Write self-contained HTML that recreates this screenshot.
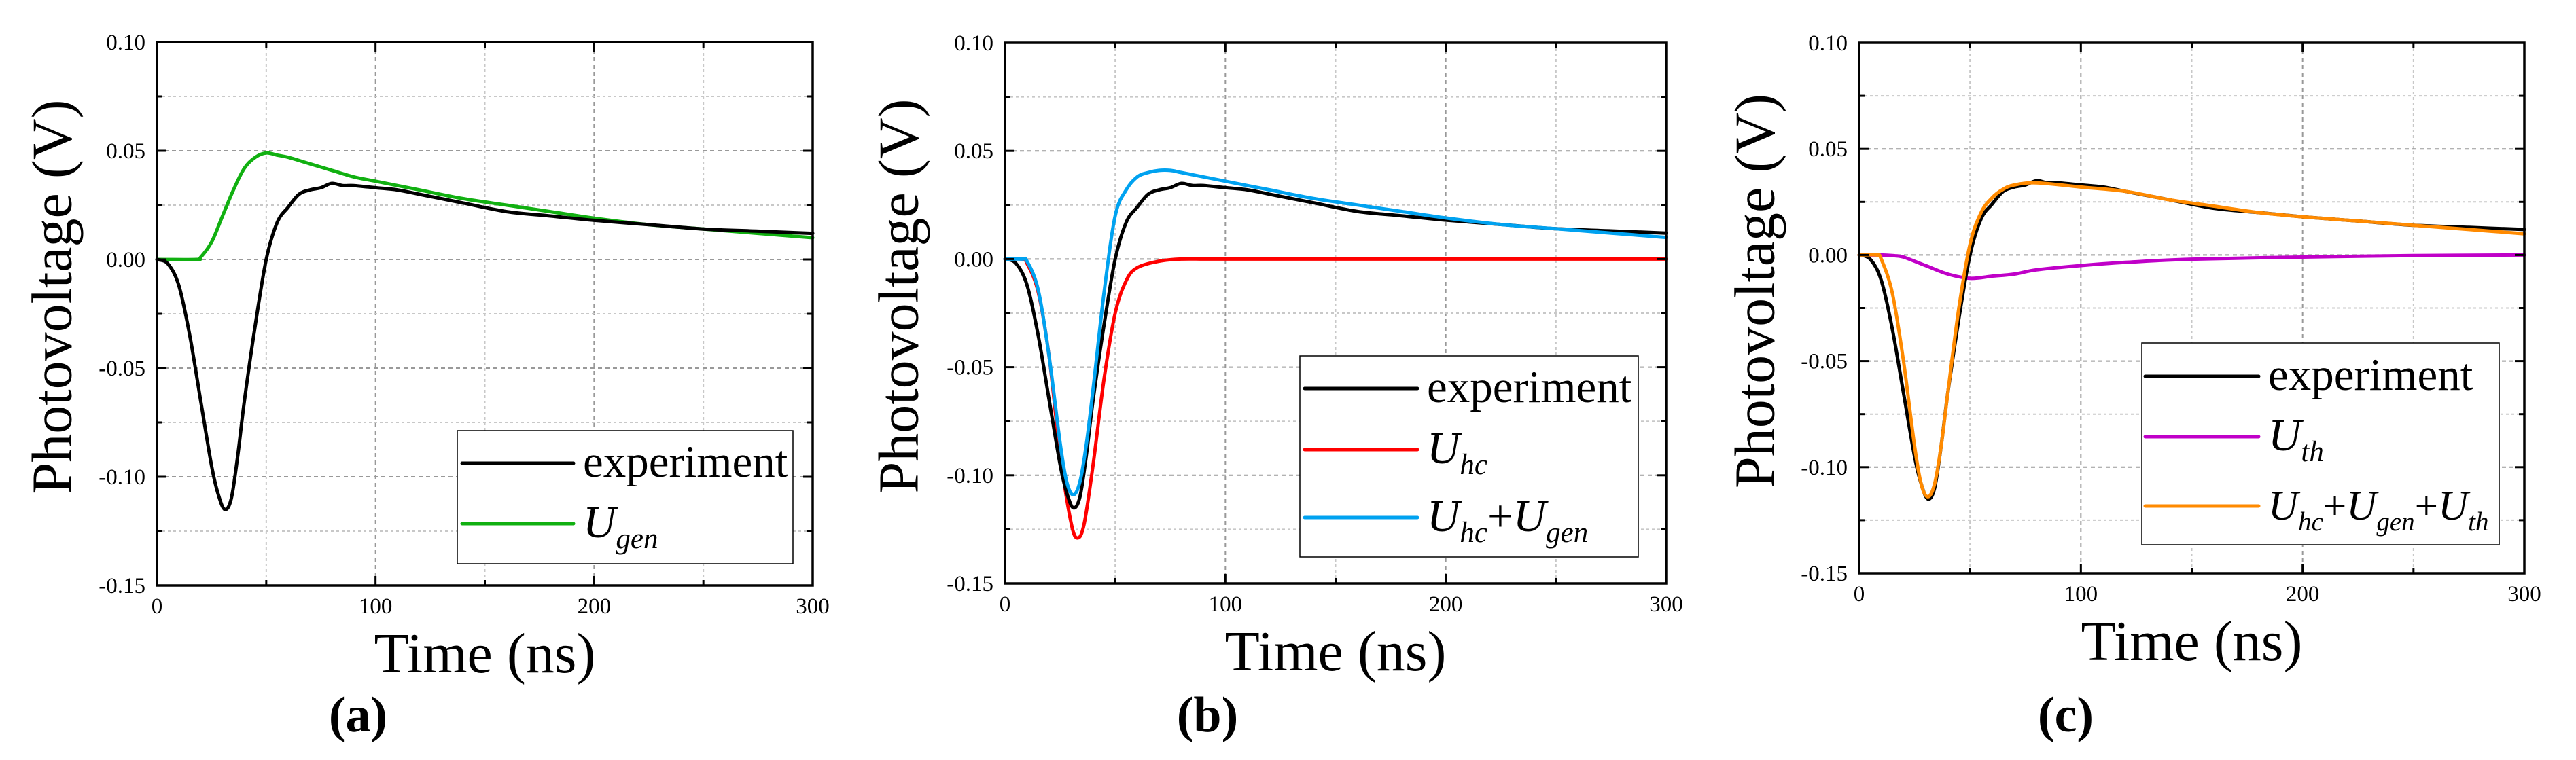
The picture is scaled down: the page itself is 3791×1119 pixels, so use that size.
<!DOCTYPE html>
<html><head><meta charset="utf-8">
<style>
html,body{margin:0;padding:0;background:#fff;}
svg{display:block;}
text{font-family:"Liberation Serif",serif;fill:#000;}
</style></head>
<body>
<svg id="fig" width="3791" height="1119" viewBox="0 0 3791 1119" xmlns="http://www.w3.org/2000/svg"></svg>
<script>
// ---- data (time in ns, value in V) ----
const expT = [0,5,10,15,20,25,28,31,34,37,40,45,50,55,60,65,70,75,80,85,90,100,110,120,140,160,180,200,225,250,275,300];
const expV = [0,-0.002,-0.012,-0.035,-0.065,-0.095,-0.108,-0.115,-0.110,-0.090,-0.065,-0.030,0,0.017,0.024,0.030,0.032,0.033,0.035,0.034,0.034,0.033,0.032,0.030,0.026,0.022,0.020,0.018,0.016,0.014,0.013,0.012];
const genT = [0,18,20,25,30,35,40,45,50,55,60,70,80,90,100,120,140,160,180,200,225,250,275,300];
const genV = [0,0,0.001,0.008,0.020,0.032,0.042,0.047,0.049,0.048,0.047,0.044,0.041,0.038,0.036,0.032,0.028,0.025,0.022,0.019,0.016,0.014,0.012,0.010];
const hcT = [0,8,10,15,20,25,30,33,36,40,45,50,55,60,70,80,90,100,150,200,250,300];
const hcV = [0,0,-0.002,-0.015,-0.045,-0.090,-0.122,-0.129,-0.122,-0.095,-0.055,-0.025,-0.010,-0.004,-0.001,0,0,0,0,0,0,0];
const sumT = [0,8,10,15,20,25,28,31,34,37,40,45,50,55,60,65,70,75,80,90,100,120,140,160,180,200,225,250,275,300];
const sumV = [0,0,-0.001,-0.014,-0.045,-0.085,-0.103,-0.109,-0.103,-0.085,-0.060,-0.015,0.020,0.032,0.038,0.040,0.041,0.041,0.040,0.038,0.036,0.032,0.028,0.025,0.022,0.019,0.016,0.014,0.012,0.010];
const thT = [0,10,15,20,30,40,50,60,70,80,100,120,150,200,250,300];
const thV = [0,0,-0.0003,-0.001,-0.005,-0.009,-0.011,-0.010,-0.009,-0.007,-0.005,-0.0035,-0.002,-0.001,-0.0003,0];
const allT = [0,8,10,15,20,25,28,31,34,37,40,45,50,55,60,65,70,80,100,120,140,160,180,200,225,250,275,300];
const allV = [0,0,-0.002,-0.018,-0.050,-0.090,-0.108,-0.114,-0.108,-0.090,-0.065,-0.025,0.005,0.020,0.027,0.031,0.033,0.034,0.032,0.030,0.026,0.023,0.020,0.018,0.016,0.014,0.012,0.010];
const xTicks = [0,100,200,300];
const yTicks = [0.10,0.05,0.00,-0.05,-0.10,-0.15];
const yTickLabels = ["0.10","0.05","0.00","-0.05","-0.10","-0.15"];

const NS="http://www.w3.org/2000/svg";
const svg=document.getElementById('fig');
function mk(tag,attrs,parent){const e=document.createElementNS(NS,tag);for(const k in attrs)e.setAttribute(k,attrs[k]);(parent||svg).appendChild(e);return e;}
function smooth(pts){
  let d='M'+pts[0][0].toFixed(1)+','+pts[0][1].toFixed(1);
  for(let i=0;i<pts.length-1;i++){
    const p0=pts[Math.max(0,i-1)],p1=pts[i],p2=pts[i+1],p3=pts[Math.min(pts.length-1,i+2)];
    const c1=[p1[0]+(p2[0]-p0[0])/6,p1[1]+(p2[1]-p0[1])/6];
    const c2=[p2[0]-(p3[0]-p1[0])/6,p2[1]-(p3[1]-p1[1])/6];
    d+=' C'+c1[0].toFixed(1)+','+c1[1].toFixed(1)+' '+c2[0].toFixed(1)+','+c2[1].toFixed(1)+' '+p2[0].toFixed(1)+','+p2[1].toFixed(1);
  }
  return d;
}

const panels=[
 {id:'a',L:231,R:1196,T:62,B:862,yt:79,lab:527,
  series:[{t:genT,v:genV,c:'#11b011',n:'ugen'},{t:expT,v:expV,c:'#000',n:'experiment'}],
  leg:{x:673,y:634,w:494,h:196,lx:680,lw:164,tx:858,rows:[[682,'#000','experiment',67],[771,'#11b011',['U','gen'],67]]}},
 {id:'b',L:1479,R:2452,T:63,B:859,yt:1325,lab:1777,
  series:[{t:hcT,v:hcV,c:'#ff0000',n:'uhc'},{t:expT,v:expV,c:'#000',n:'experiment'},{t:sumT,v:sumV,c:'#00a2f0',n:'uhc-plus-ugen'}],
  leg:{x:1913,y:524,w:498,h:296,lx:1920,lw:166,tx:2100,rows:[[572,'#000','experiment',67],[662,'#ff0000',['U','hc'],67],[762,'#00a2f0',['U','hc','+U','gen'],67]]}},
 {id:'c',L:2736,R:3715,T:63,B:844,yt:2585,lab:3040,
  series:[{t:thT,v:thV,c:'#c000c8',n:'uth'},{t:expT,v:expV,c:'#000',n:'experiment'},{t:allT,v:allV,c:'#ff8a00',n:'uhc-plus-ugen-plus-uth'}],
  leg:{x:3152,y:505,w:526,h:297,lx:3157,lw:167,tx:3338,rows:[[554,'#000','experiment',67],[643,'#c000c8',['U','th'],67],[745,'#ff8a00',['U','hc','+U','gen','+U','th'],61]]}}
];

panels.forEach(p=>{
  const g=mk('g',{});
  
  
  const X=t=>p.L+(t-0)/300*(p.R-p.L);
  const Y=v=>p.T+(0.10-v)/0.25*(p.B-p.T);
  for(let t=50;t<300;t+=50){const l=mk('line',{x1:X(t),x2:X(t),y1:p.T,y2:p.B,stroke:t%100==0?'#999':'#c8c8c8','stroke-width':2,'stroke-dasharray':t%100==0?'6,5':'4,4'},g);
    }
  for(let k=1;k<10;k++){const v=0.10-k*0.025;const maj=k%2==0;const l=mk('line',{x1:p.L,x2:p.R,y1:Y(v),y2:Y(v),stroke:maj?'#999':'#c8c8c8','stroke-width':2,'stroke-dasharray':maj?'6,5':'4,4'},g);
    }
  p.series.forEach(s=>{
    const pts=s.t.map((t,i)=>[X(t),Y(s.v[i])]);
    const e=mk('path',{d:smooth(pts),fill:'none',stroke:s.c,'stroke-width':5,'stroke-linejoin':'round','stroke-linecap':'round'},g);
    
    
  });
  const fr=mk('rect',{x:p.L,y:p.T,width:p.R-p.L,height:p.B-p.T,fill:'none',stroke:'#000','stroke-width':3.5},g);
  
  for(let t=0;t<=300;t+=50){const len=t%100==0?14:8;
    mk('line',{x1:X(t),x2:X(t),y1:p.B,y2:p.B-len,stroke:'#000','stroke-width':3},g);
    mk('line',{x1:X(t),x2:X(t),y1:p.T,y2:p.T+len,stroke:'#000','stroke-width':3},g);}
  for(let k=0;k<=10;k++){const v=0.10-k*0.025;const len=k%2==0?14:8;
    mk('line',{x1:p.L,x2:p.L+len,y1:Y(v),y2:Y(v),stroke:'#000','stroke-width':3},g);
    mk('line',{x1:p.R,x2:p.R-len,y1:Y(v),y2:Y(v),stroke:'#000','stroke-width':3},g);}
  xTicks.forEach(t=>{const e=mk('text',{x:X(t),y:p.B+41,'font-size':33,'text-anchor':'middle'},g);e.textContent=t;
    });
  yTicks.forEach((v,i)=>{const e=mk('text',{x:p.L-17,y:Y(v)+11,'font-size':33,'text-anchor':'end'},g);e.textContent=yTickLabels[i];
    });
  const xt=mk('text',{x:(p.L+p.R)/2,y:p.B+128,'font-size':84,'text-anchor':'middle'},g);xt.textContent='Time (ns)';
  
  const yc=(p.T+p.B)/2-25;
  const yt=mk('text',{x:p.yt+6,y:yc,'font-size':84,'text-anchor':'middle',transform:`rotate(-90 ${p.yt+6} ${yc})`,'dominant-baseline':'middle'},g);yt.textContent='Photovoltage (V)';
  
  const lb=mk('text',{x:p.lab,y:1077,'font-size':74,'font-weight':'bold','text-anchor':'middle'},g);lb.textContent='('+p.id+')';
  
  const lg=p.leg;
  const lgG=mk('g',{},g);
  
  mk('rect',{x:lg.x,y:lg.y,width:lg.w,height:lg.h,fill:'#fff',stroke:'#000','stroke-width':1.5},lgG);
  lg.rows.forEach(r=>{
    const eg=mk('g',{},lgG);
    
    mk('line',{x1:lg.lx,x2:lg.lx+lg.lw,y1:r[0],y2:r[0],stroke:r[1],'stroke-width':5,'stroke-linecap':'round'},eg);
    const fs=r[3];
    const tx=mk('text',{x:lg.tx,y:r[0]+20,'font-size':fs},eg);
    if(typeof r[2]==='string'){tx.textContent=r[2];}
    else{
      r[2].forEach((s,i)=>{
        if(i%2==0){const sp=mk('tspan',{'font-style':s.startsWith('+')?'normal':'italic','dy':i==0?0:-16},tx);
          if(s.startsWith('+')){sp.textContent='+';const u=mk('tspan',{'font-style':'italic'},tx);u.textContent='U';}
          else sp.textContent=s;}
        else{const sp=mk('tspan',{'font-style':'italic','font-size':Math.round(fs*0.64),'dy':16},tx);sp.textContent=s;}
      });
    }
  });
});
</script>
</body></html>
